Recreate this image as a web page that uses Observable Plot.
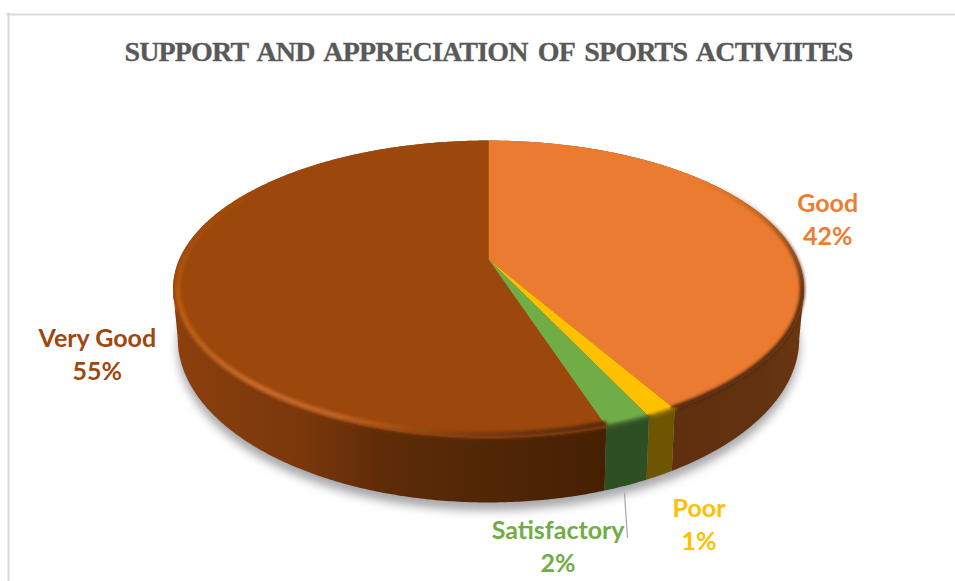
<!DOCTYPE html>
<html>
<head>
<meta charset="utf-8">
<style>html,body{margin:0;padding:0;background:#fff;overflow:hidden}</style>
<script src="https://cdn.jsdelivr.net/npm/d3@7"></script>
<script src="https://cdn.jsdelivr.net/npm/@observablehq/plot@0.6"></script>
</head>
<body>
<div id="chart"></div>
<script>
// Data
const titleText = "SUPPORT AND APPRECIATION OF SPORTS ACTIVIITES";
const categories = ["Good", "Poor", "Satisfactory", "Very Good"];
const shares = [41.7, 1.3, 2.0, 55.0];
const shareLabels = ["42%", "1%", "2%", "55%"];

// Styles
const topColors = ["#ea7b30", "#ffc000", "#70ad47", "#9c470b"];
const sideColors = ["url(#sideGood)", "#6f5500", "#2e4f22", "url(#sideVery)"];
const rimColors = ["url(#rimGood)", "#8f6c00", "#3c5f2a", "url(#rimVery)"];
const labelColors = ["#ed7d31", "#ffc000", "#70ad47", "#9e480e"];
const labelOffsets = [[55, -6.5], [37, 110], [-70, 123], [-76, 70]];

// Perspective of the pie
const k = 0.1987, drop = 0.326, shrink = 0.985, stretch = 1.104;
const widest = Math.acos(-k) * 180 / Math.PI; // angle of the outermost point of the ellipse
const project = (deg, bottom = false, r = 1) => {
  const t = deg * Math.PI / 180, X = r * Math.sin(t), Y = -r * Math.cos(t), d = 1 - k * Y;
  return bottom ? {x: shrink * X / d, y: stretch * Y / d + drop} : {x: X / d, y: Y / d};
};
const arc = (a, b, bottom = false, r = 1) => {
  const n = Math.max(2, Math.ceil(Math.abs(b - a) * 2));
  return d3.range(n + 1).map(i => project(a + (b - a) * i / n, bottom, r));
};

let acc = 0;
const slices = categories.map((name, i) => {
  const a0 = acc * 3.6; acc += shares[i]; const a1 = acc * 3.6;
  return {name, i, a0, a1, mid: (a0 + a1) / 2};
});
const centre = {x: 0, y: 0};
const sideRange = s => [Math.max(s.a0, widest), Math.min(s.a1, 360 - widest)];

const withAttrs = (attrs) => ({render(index, scales, values, dims, ctx, next) {
  const g = next(index, scales, values, dims, ctx);
  for (const [n, v] of Object.entries(attrs)) g.setAttribute(n, v);
  return g;
}});
const blur = id => withAttrs({filter: `url(#${id})`});

const defs = () => {
  const d = d3.create("svg:defs");
  const grad = (id, stops, dir = [1, 0]) => {
    const g = d.append("linearGradient").attr("id", id)
      .attr("x1", 0).attr("y1", 0).attr("x2", dir[0]).attr("y2", dir[1]);
    stops.forEach(([o, c, op = 1]) => g.append("stop").attr("offset", o).attr("stop-color", c).attr("stop-opacity", op));
  };
  grad("sideVery", [[0, "#8c400d"], [0.3, "#7a370b"], [0.48, "#5f2c08"], [0.7, "#512706"], [1, "#462004"]]);
  grad("sideGood", [[0, "#5f2f0f"], [0.7, "#623210"], [1, "#6c3710"]]);
  grad("rimVery", [[0, "#b55a16", 0], [0.12, "#b55a16", 0.3], [0.2, "#b8590f"], [0.31, "#bd5e16"],
    [0.5, "#c86c2c"], [0.65, "#c06328"], [0.73, "#a85213"], [0.85, "#7a3a0c"], [1, "#4f2606"]], [1, 1]);
  grad("rimGood", [[0, "#50280c", 0], [0.3, "#50280c", 0.55], [0.5, "#50280c", 0.95], [1, "#50280c"]], [0, 1]);
  const filt = (id, sd) => d.append("filter").attr("id", id)
    .attr("x", "-20%").attr("y", "-20%").attr("width", "140%").attr("height", "140%")
    .append("feGaussianBlur").attr("stdDeviation", sd);
  filt("blurShadow", 5); filt("blurRim", 1.8);
  return d.node();
};

const marks = [
  defs,
  Plot.frame({anchor: "top", stroke: "#d9d9d9", strokeWidth: 2, insetTop: 14, insetLeft: 7}),
  Plot.frame({anchor: "left", stroke: "#d9d9d9", strokeWidth: 2, insetTop: 13, insetLeft: 8}),
  Plot.text([titleText], {x: () => 0, frameAnchor: "top", dy: 52, text: d => d, fill: "#595959",
    stroke: "#595959", strokeWidth: 0.3,
    fontFamily: "Liberation Serif", fontWeight: 700, fontSize: 28, lineAnchor: "middle",
    ...withAttrs({"letter-spacing": "-0.82", "word-spacing": "4"})}),
  // soft shadow below the pie
  Plot.line(arc(0, 360, true), {x: "x", y: "y", fill: "#a8a8ac", stroke: "none", dy: 8, ...blur("blurShadow")})
];

// Side walls
for (const s of slices) {
  const [a, b] = sideRange(s);
  if (b <= a) continue;
  marks.push(Plot.line([...arc(a, b, false), ...arc(b, a, true)],
    {x: "x", y: "y", fill: sideColors[s.i], stroke: "none"}));
}
// Top faces, on a base disk that hides the seams
marks.push(Plot.line(arc(0, 360), {x: "x", y: "y", fill: topColors[3], stroke: "none"}));
for (const s of slices) {
  marks.push(Plot.line([centre, ...arc(s.a0, s.a1), centre],
    {x: "x", y: "y", fill: topColors[s.i], stroke: "none"}));
}
// Bevel along the rim
marks.push(Plot.line(arc(50, slices[0].a1, false, 0.995), {x: "x", y: "y", stroke: rimColors[0], strokeWidth: 5, ...blur("blurRim")}));
marks.push(Plot.line(arc(slices[1].a0, slices[1].a1), {x: "x", y: "y", stroke: rimColors[1], strokeWidth: 4, ...blur("blurRim")}));
marks.push(Plot.line(arc(slices[2].a0, slices[2].a1), {x: "x", y: "y", stroke: rimColors[2], strokeWidth: 4, ...blur("blurRim")}));
marks.push(Plot.line(arc(slices[3].a0, 250, false, 0.998), {x: "x", y: "y", stroke: "#843d0d", strokeWidth: 3, ...blur("blurRim")}));
marks.push(Plot.line(arc(slices[3].a0, 300, false, 0.985), {x: "x", y: "y", stroke: rimColors[3], strokeWidth: 5, ...blur("blurRim")}));

// Leader line of the small slice
const sat = slices[2], satEdge = project(sat.mid, true);
marks.push(Plot.link([satEdge], {x1: "x", y1: "y", x2: "x", y2: "y", stroke: "#a6a6a6", strokeWidth: 1.2,
  render(index, scales, values, dims, ctx, next) {
    const g = next(index, scales, values, dims, ctx);
    const path = g.querySelector("path,line");
    const [px, py] = [values.x1[0], values.y1[0]];
    path.setAttribute("d", `M${px - 1.6},${py + 7}L${px + 1.4},${py + 52}`);
    return g;
  }}));

// Labels
for (const s of slices) {
  const p = project(s.mid), [dx, dy] = labelOffsets[s.i];
  marks.push(Plot.text([p], {x: "x", y: "y", dx, dy, text: () => `${s.name}\n${shareLabels[s.i]}`,
    fill: labelColors[s.i], fontFamily: "Lato", fontWeight: 700, fontSize: 25, lineHeight: 1.32,
    textAnchor: "middle"}));
}

const cx = 488, cy = 259, A = 309.2, B = 142.6;
const chart = Plot.plot({
  width: 955, height: 581, margin: 0,
  x: {domain: [-1, 1], range: [cx - A, cx + A], axis: null},
  y: {domain: [-1, 1], range: [cy - B, cy + B], axis: null},
  style: {background: "#fff", display: "block"},
  marks
});
document.getElementById("chart").append(chart);
</script>
</body>
</html>
